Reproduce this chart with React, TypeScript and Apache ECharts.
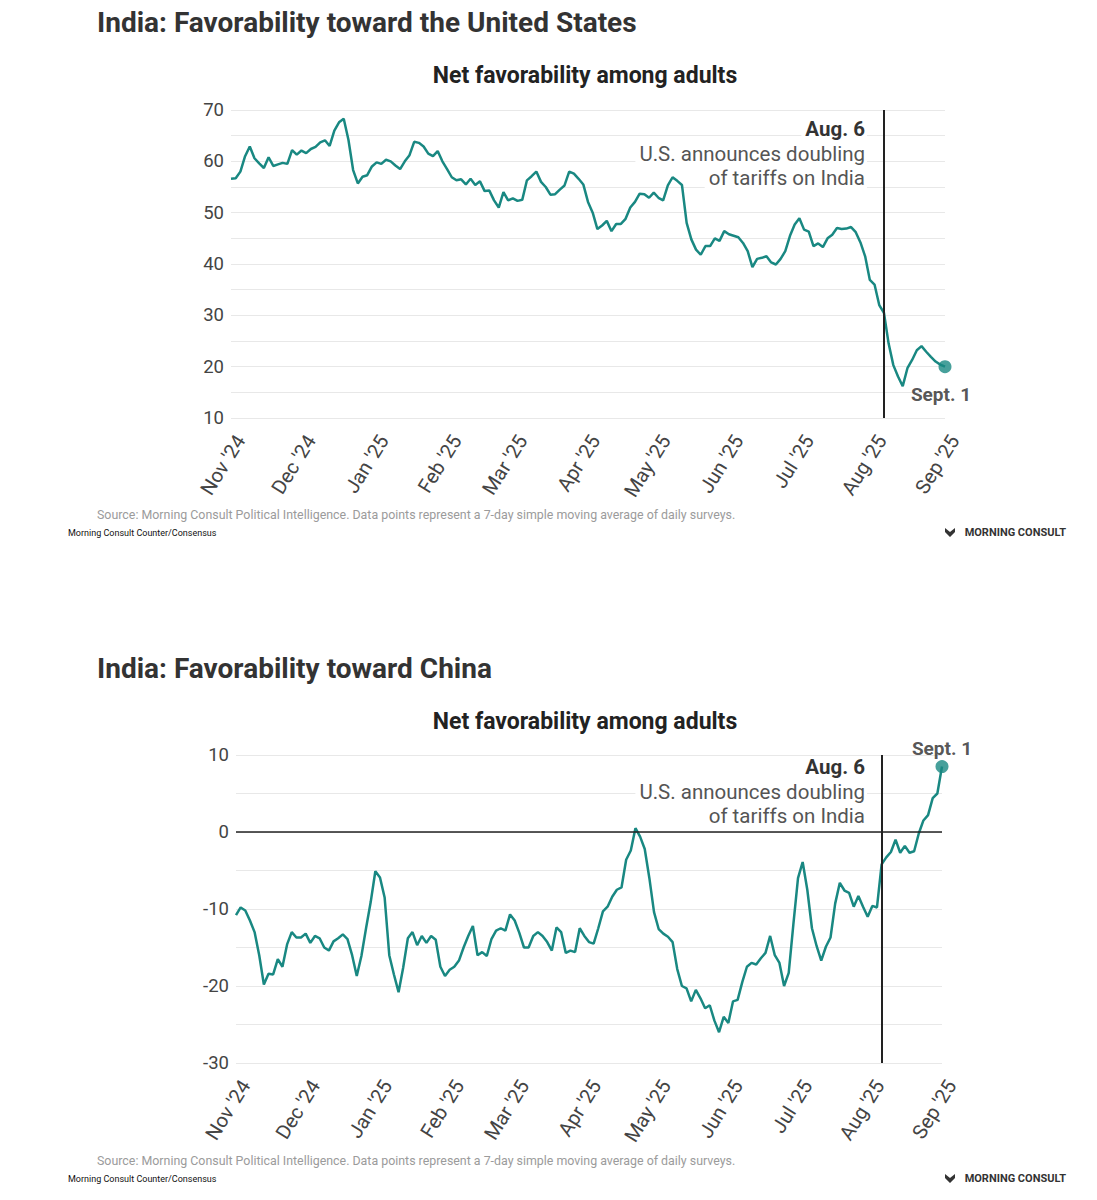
import React, { useEffect, useRef } from 'react';
import * as echarts from 'echarts';

// readings every 2 days, Nov 1 2024 -> Sep 1 2025
const STEP_DAYS = 2;
const monthTicks = ["Nov '24", "Dec '24", "Jan '25", "Feb '25", "Mar '25", "Apr '25", "May '25", "Jun '25", "Jul '25", "Aug '25", "Sep '25"];

const usValues = [
  56.6, 56.7, 58, 61, 62.9, 60.6, 59.6, 58.7, 60.8, 59.1, 59.4, 59.7, 59.5, 62.2, 61.3, 62.1, 61.6, 62.4, 62.8, 63.7,
  64.1, 63, 66, 67.6, 68.3, 64.2, 58.3, 55.7, 57, 57.3, 59, 59.8, 59.5, 60.3, 60, 59.2, 58.5, 60, 61.2, 63.8,
  63.6, 62.9, 61.5, 61, 62, 60, 58.5, 56.9, 56.3, 56.5, 55.5,
  56.6, 55.4, 56.1, 54.2, 54.3, 52.4, 51, 54, 52.4, 52.8, 52.3, 52.5, 56.3, 57.1, 58, 56, 55, 53.5, 53.6, 54.5,
  55.3, 58, 57.6, 56.6, 55.5, 52.1, 50, 46.8, 47.5, 48.4, 46.4, 47.8, 47.8, 48.8, 51, 52.1, 53.7, 53.6, 52.9, 53.9,
  52.9, 52.4, 55.3, 56.9, 56.2, 55.4, 48, 44.8, 42.8, 41.8, 43.5,
  43.5, 45, 44.5, 46.4, 45.8, 45.5, 45.2, 44.1, 42.5, 39.4, 41, 41.2, 41.5, 40.3, 39.9, 41, 42.5, 45.5, 47.7, 48.9,
  46.7, 46.3, 43.5, 44, 43.3, 45, 45.7, 47, 46.8, 46.9, 47.2, 46.2, 44.2, 41.5, 36.9, 36, 32, 30.5, 24.5, 20.3,
  18.1, 16.2, 19.7, 21.3, 23.2, 24, 22.9, 21.9, 21, 20.4, 20,
];

const chinaValues = [
  -10.8, -9.8, -10.2, -11.5, -13, -16, -19.8, -18.4, -18.5, -16.5, -17.5, -14.6, -13, -13.7, -13.7, -13.2, -14.4, -13.5, -13.8, -15,
  -15.4, -14.2, -13.8, -13.3, -13.9, -16, -18.7, -16.1, -12.5, -9.1, -5.1, -5.9, -8.5, -16, -18.5, -20.8, -17.6, -13.8, -13, -14.7,
  -13.5, -14.4, -13.5, -14, -17.5, -18.7, -17.9, -17.5, -16.7, -15, -13.5,
  -12.2, -16, -15.6, -16.1, -13.9, -12.8, -12.5, -12.8, -10.7, -11.5, -13.1, -15, -15, -13.5, -13, -13.5, -14.3, -15.4, -12.4, -13,
  -15.7, -15.4, -15.6, -12.5, -13.5, -14.3, -14.5, -12.5, -10.3, -9.7, -8.4, -7.5, -7.2, -3.6, -2.4, 0.5, -0.6, -2.2, -6, -10.4,
  -12.6, -13.2, -13.6, -14.3, -17.8, -20, -20.3, -22, -20.5, -21.6, -22.9,
  -22.5, -24.5, -26, -24, -24.8, -22, -21.8, -19.5, -17.5, -17, -17.2, -16.4, -15.7, -13.5, -16, -17, -20, -18.3, -12, -6,
  -3.9, -7.5, -12.5, -14.8, -16.7, -14.9, -13.7, -9.3, -6.6, -7.6, -7.9, -9.7, -8.3, -9.7, -11, -9.6, -9.8, -4.2, -3.3, -2.6,
  -1, -2.7, -1.8, -2.7, -2.5, -0.2, 1.5, 2.2, 4.4, 5, 8.5,
];

const TEAL = '#198882';
const FONT = 'Roboto, "Noto Sans", sans-serif';

const dayTime = (d: number) => new Date(2024, 10, 1 + d).getTime();
const toSeries = (vals: number[]) => vals.map((v, i) => [dayTime(i * STEP_DAYS), v]);
const lastPoint = (vals: number[]) => [[dayTime((vals.length - 1) * STEP_DAYS), vals[vals.length - 1]]];
const AUG_6 = new Date(2025, 7, 6).getTime();

const monthLabel = (val: number) => {
  const d = new Date(val);
  const idx = (d.getFullYear() - 2024) * 12 + d.getMonth() - 10;
  return monthTicks[idx] ?? '';
};

const txt = (x: number, y: number, text: string, font: string, fill: string, align = 'left', bg?: string) => ({
  type: 'text',
  x,
  y,
  silent: true,
  z: 10,
  style: {
    text,
    font,
    fill,
    textAlign: align,
    textVerticalAlign: 'middle',
    ...(bg ? { backgroundColor: bg, padding: [0, 2, 0, 4] } : {}),
  },
});

const note = (dy: number) => [
  txt(867, 129 + dy, 'Aug. 6', `bold 20.5px ${FONT}`, '#333', 'right', '#fff'),
  txt(867, 154 + dy, 'U.S. announces doubling', `20.5px ${FONT}`, '#555', 'right', '#fff'),
  txt(867, 178 + dy, 'of tariffs on India', `20.5px ${FONT}`, '#555', 'right', '#fff'),
];

const footer = (dy: number) => [
  txt(97, 514 + dy, 'Source: Morning Consult Political Intelligence. Data points represent a 7-day simple moving average of daily surveys.', `12.4px ${FONT}`, '#9b9b9b'),
  txt(68, 533 + dy, 'Morning Consult Counter/Consensus', `9px ${FONT}`, '#111'),
  txt(1066, 532 + dy, 'MORNING CONSULT', `bold 11px ${FONT}`, '#333', 'right'),
  {
    type: 'polygon',
    silent: true,
    shape: { points: [[945, 528 + dy], [950, 532 + dy], [955, 528 + dy], [955, 532 + dy], [950, 537 + dy], [945, 532 + dy]] },
    style: { fill: '#333' },
  },
];

export default function App() {
  const chartRef = useRef<HTMLDivElement>(null);

  useEffect(() => {
    if (!chartRef.current) return;
    const chart = echarts.init(chartRef.current, undefined, { renderer: 'svg' });

    const xAxisBase = {
      type: 'time',
      min: dayTime(0),
      max: dayTime(304),
      splitNumber: 10,
      minInterval: 28 * 86400000,
      maxInterval: 31 * 86400000,
      axisLine: { show: false },
      axisTick: { show: false },
      splitLine: { show: false },
      axisLabel: {
        rotate: 58,
        margin: 13,
        padding: [22, 0, 0, 0],
        color: '#444',
        fontSize: 20,
        fontFamily: FONT,
        formatter: monthLabel,
        showMinLabel: true,
        showMaxLabel: true,
      },
    };
    const yAxisBase = {
      type: 'value',
      interval: 5,
      axisLine: { show: false },
      axisTick: { show: false },
      splitLine: { lineStyle: { color: '#e8e8e8', width: 1 } },
      axisLabel: {
        color: '#444',
        fontSize: 18.5,
        fontFamily: FONT,
        margin: 7,
        formatter: (v: number) => (v % 10 === 0 ? String(v) : ''),
      },
    };
    const vLine = { xAxis: AUG_6, lineStyle: { color: '#222', width: 2, type: 'solid' } };
    const dotLabel = {
      show: true,
      formatter: 'Sept. 1',
      color: '#2a2a2a',
      fontSize: 19,
      fontWeight: 'bold',
      fontFamily: FONT,
    };

    chart.setOption({
      animation: false,
      backgroundColor: '#fff',
      grid: [
        { left: 231, top: 110, width: 714, height: 308 },
        { left: 236, top: 755, width: 706, height: 308 },
      ],
      xAxis: [
        { ...xAxisBase, gridIndex: 0 },
        { ...xAxisBase, gridIndex: 1 },
      ],
      yAxis: [
        { ...yAxisBase, gridIndex: 0, min: 10, max: 70 },
        { ...yAxisBase, gridIndex: 1, min: -30, max: 10 },
      ],
      series: [
        {
          type: 'line',
          xAxisIndex: 0,
          yAxisIndex: 0,
          data: toSeries(usValues),
          showSymbol: false,
          lineStyle: { color: TEAL, width: 2.5 },
          markLine: { silent: true, symbol: ['none', 'none'], label: { show: false }, data: [vLine] },
        },
        {
          type: 'scatter',
          xAxisIndex: 0,
          yAxisIndex: 0,
          data: lastPoint(usValues),
          symbolSize: 13,
          itemStyle: { color: TEAL },
          label: { ...dotLabel, position: 'bottom', distance: 12, offset: [-4, 0] },
        },
        {
          type: 'line',
          xAxisIndex: 1,
          yAxisIndex: 1,
          data: toSeries(chinaValues),
          showSymbol: false,
          lineStyle: { color: TEAL, width: 2.5 },
          markLine: {
            silent: true,
            symbol: ['none', 'none'],
            label: { show: false },
            data: [vLine, { yAxis: 0, lineStyle: { color: '#222', width: 1.5, type: 'solid' } }],
          },
        },
        {
          type: 'scatter',
          xAxisIndex: 1,
          yAxisIndex: 1,
          data: lastPoint(chinaValues),
          symbolSize: 13,
          itemStyle: { color: TEAL },
          label: { ...dotLabel, position: 'top', distance: 2 },
        },
      ],
      graphic: [
        txt(97, 22, 'India: Favorability toward the United States', `bold 28px ${FONT}`, '#333'),
        txt(585, 75, 'Net favorability among adults', `bold 23px ${FONT}`, '#222', 'center'),
        ...note(0),
        ...footer(0),
        txt(97, 668, 'India: Favorability toward China', `bold 28px ${FONT}`, '#333'),
        txt(585, 721, 'Net favorability among adults', `bold 23px ${FONT}`, '#222', 'center'),
        ...note(638),
        ...footer(646),
      ],
    });

    return () => chart.dispose();
  }, []);

  return (
    <div
      ref={chartRef}
      style={{ position: 'absolute', left: 0, top: 0, width: 1097, height: 1200, background: '#fff' }}
    />
  );
}
